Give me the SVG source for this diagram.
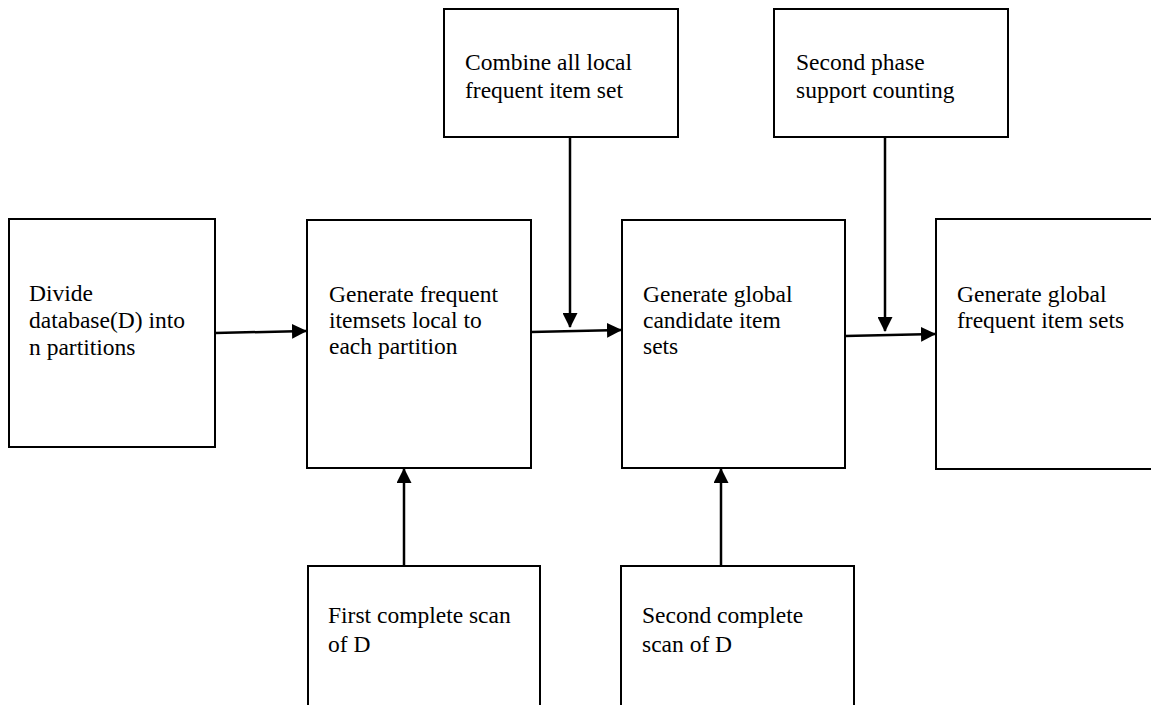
<svg xmlns="http://www.w3.org/2000/svg" width="1151" height="705" viewBox="0 0 1151 705">
<style>
.box{fill:#fff;stroke:#000;stroke-width:2}
.t{font-family:"Liberation Serif","Times New Roman",serif;font-size:23.5px;fill:#000}
.c{stroke:#000;stroke-width:2.5;fill:none;marker-end:url(#ah)}
</style>
<defs>
<marker id="ah" markerWidth="6" markerHeight="6" refX="5.6" refY="3" orient="auto" markerUnits="strokeWidth">
<path d="M0,0 L6,3 L0,6 Z" fill="#000"/>
</marker>
</defs>
<rect width="1151" height="705" fill="#fff"/>
<g id="divide">
<rect class="box" x="9" y="219" width="206" height="228"/>
<text class="t" x="29" y="301">Divide</text>
<text class="t" x="29" y="328">database(D) into</text>
<text class="t" x="29" y="355">n partitions</text>
</g>
<g id="local">
<rect class="box" x="307" y="220" width="224" height="248"/>
<text class="t" x="329" y="302">Generate frequent</text>
<text class="t" x="329" y="328">itemsets local to</text>
<text class="t" x="329" y="354">each partition</text>
</g>
<g id="candidate">
<rect class="box" x="622" y="220" width="223" height="248"/>
<text class="t" x="643" y="302">Generate global</text>
<text class="t" x="643" y="328">candidate item</text>
<text class="t" x="643" y="354">sets</text>
</g>
<g id="global">
<rect class="box" x="936" y="219" width="220" height="250"/>
<text class="t" x="957" y="302">Generate global</text>
<text class="t" x="957" y="328">frequent item sets</text>
</g>
<g id="combine">
<rect class="box" x="444" y="9" width="234" height="128"/>
<text class="t" x="465" y="70">Combine all local</text>
<text class="t" x="465" y="98">frequent item set</text>
</g>
<g id="second-phase">
<rect class="box" x="774" y="9" width="234" height="128"/>
<text class="t" x="796" y="70">Second phase</text>
<text class="t" x="796" y="98">support counting</text>
</g>
<g id="first-scan">
<rect class="box" x="308" y="566" width="232" height="150"/>
<text class="t" x="328" y="623">First complete scan</text>
<text class="t" x="328" y="652">of D</text>
</g>
<g id="second-scan">
<rect class="box" x="621" y="566" width="233" height="150"/>
<text class="t" x="642" y="623">Second complete</text>
<text class="t" x="642" y="652">scan of D</text>
</g>
<g id="connectors">
<line class="c" x1="215" y1="333" x2="306" y2="331"/>
<line class="c" x1="531" y1="332" x2="621" y2="330"/>
<line class="c" x1="845" y1="336" x2="935" y2="334"/>
<line class="c" x1="570" y1="137" x2="570" y2="327"/>
<line class="c" x1="885" y1="137" x2="885" y2="331"/>
<line class="c" x1="404" y1="566" x2="404" y2="469"/>
<line class="c" x1="721" y1="566" x2="721" y2="469"/>
</g>
</svg>
